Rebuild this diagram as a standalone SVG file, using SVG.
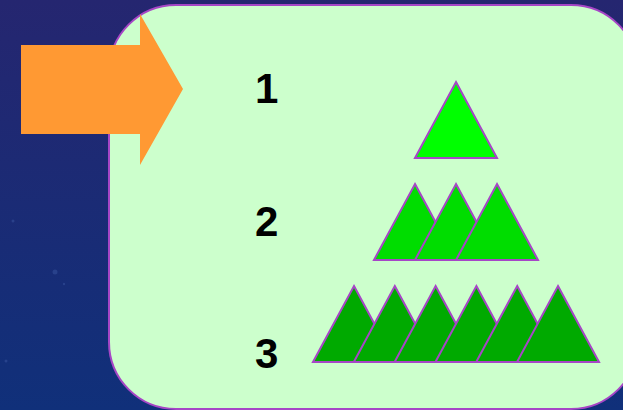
<svg xmlns="http://www.w3.org/2000/svg" xmlns:xlink="http://www.w3.org/1999/xlink" width="623" height="410" viewBox="0 0 623 410">
  <defs>
    <linearGradient id="bg" x1="0" y1="0" x2="0" y2="1">
      <stop offset="0" stop-color="#252670"/>
      <stop offset="1" stop-color="#10307a"/>
    </linearGradient>
    <polygon id="tri" points="0,0 41,76 -41,76"/>
  </defs>
  <style>
    .panel { fill: #ccffcc; stroke: #a646c6; stroke-width: 2; }
    .arrow { fill: #ff9933; }
    .t { stroke: #a646c6; stroke-width: 2; stroke-linejoin: miter; }
    .r1 { fill: #00ff00; }
    .r2 { fill: #00dd00; }
    .r3 { fill: #00aa00; }
    .lbl { font-family: "Liberation Sans", Arial, sans-serif; font-weight: bold; font-size: 42px; fill: #000000; }
    .star { fill: #3a55a0; opacity: 0.5; }
  </style>
  <rect x="0" y="0" width="623" height="410" fill="url(#bg)"/>
  <circle class="star" cx="55" cy="272" r="2.5"/>
  <circle class="star" cx="13" cy="221" r="1.5"/>
  <circle class="star" cx="6" cy="361" r="1.5"/>
  <circle class="star" cx="64" cy="284" r="1.2"/>
  <g id="panel">
    <rect class="panel" x="109" y="5" width="529" height="404" rx="67" ry="67"/>
  </g>
  <g id="arrow">
    <polygon class="arrow" points="21,45 140,45 140,14 183,89 140,165 140,134 21,134"/>
  </g>
  <g id="label1"><text class="lbl" x="255" y="103">1</text></g>
  <g id="label2"><text class="lbl" x="255" y="236">2</text></g>
  <g id="label3"><text class="lbl" x="255" y="368">3</text></g>
  <g id="row1">
    <use xlink:href="#tri" class="t r1" x="456" y="82"/>
  </g>
  <g id="row2">
    <use xlink:href="#tri" class="t r2" x="415" y="184"/>
    <use xlink:href="#tri" class="t r2" x="456" y="184"/>
    <use xlink:href="#tri" class="t r2" x="497" y="184"/>
  </g>
  <g id="row3">
    <use xlink:href="#tri" class="t r3" x="354" y="286"/>
    <use xlink:href="#tri" class="t r3" x="394.8" y="286"/>
    <use xlink:href="#tri" class="t r3" x="435.6" y="286"/>
    <use xlink:href="#tri" class="t r3" x="476.4" y="286"/>
    <use xlink:href="#tri" class="t r3" x="517.2" y="286"/>
    <use xlink:href="#tri" class="t r3" x="558" y="286"/>
  </g>
  <g id="connectors"></g>
</svg>
